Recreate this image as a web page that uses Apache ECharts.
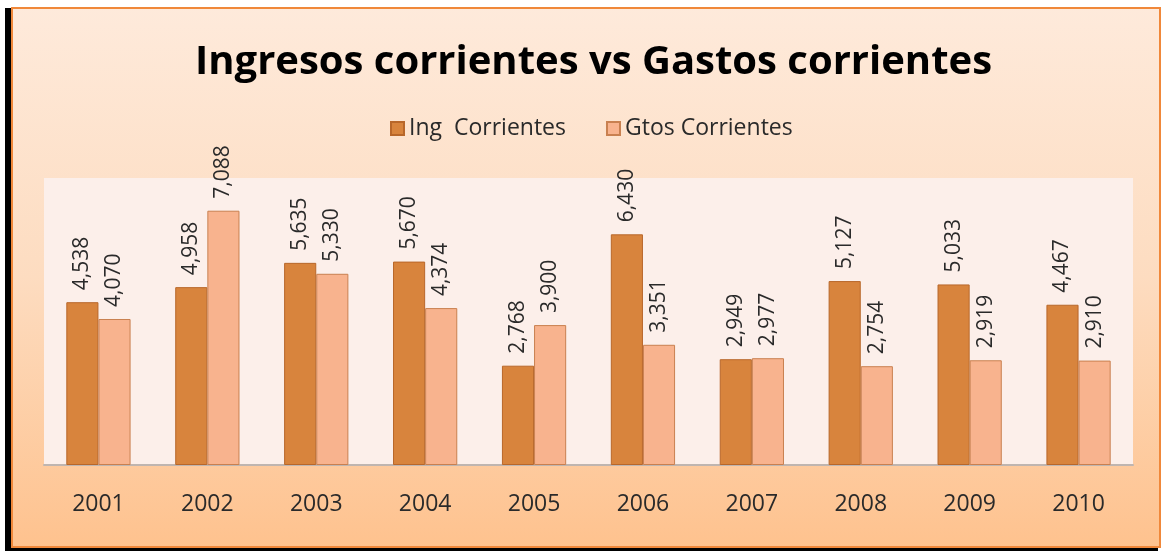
<!DOCTYPE html>
<html>
<head>
<meta charset="utf-8">
<script src="https://cdn.jsdelivr.net/npm/echarts@6/dist/echarts.min.js"></script>
<style>
html, body { margin: 0; padding: 0; background: #fff; }
#chart { width: 1163px; height: 552px; }
</style>
</head>
<body>
<div id="chart"></div>
<script>
const years = ['2001', '2002', '2003', '2004', '2005', '2006', '2007', '2008', '2009', '2010']
const ingresos = [4538, 4958, 5635, 5670, 2768, 6430, 2949, 5127, 5033, 4467]
const gastos = [4070, 7088, 5330, 4374, 3900, 3351, 2977, 2754, 2919, 2910]

const chart = echarts.init(document.getElementById('chart'))

const fmt = p => p.value.toLocaleString('en-US')
const valueLabel = {
    show: true,
    position: 'top',
    rotate: 90,
    align: 'left',
    verticalAlign: 'middle',
    distance: 12,
    fontFamily: 'Open Sans',
    fontSize: 21,
    color: '#2a2a2a',
    formatter: fmt
}

const option = {
    backgroundColor: '#fff',
    textStyle: { fontFamily: 'Open Sans' },
    graphic: [
        // sombra negra del marco
        { type: 'rect', z: -10, shape: { x: 5, y: 8, width: 1153, height: 543 }, style: { fill: '#000' } },
        {
            type: 'rect', z: -9,
            shape: { x: 12, y: 8, width: 1148, height: 539 },
            style: {
                fill: new echarts.graphic.LinearGradient(0, 0, 0, 1, [
                    { offset: 0, color: '#FEEADB' },
                    { offset: 0.5, color: '#FDDCC0' },
                    { offset: 1, color: '#FEC28E' }
                ]),
                stroke: '#F0883A',
                lineWidth: 2
            }
        }
    ],
    title: {
        text: 'Ingresos corrientes vs Gastos corrientes',
        left: 190,
        top: 38,
        textStyle: { fontFamily: 'Open Sans', fontWeight: 'bold', fontSize: 40, color: '#000' }
    },
    legend: {
        top: 112,
        left: 385,
        itemWidth: 13,
        itemHeight: 13,
        itemGap: 40,
        icon: 'rect',
        textStyle: { fontFamily: 'Open Sans', fontSize: 23, color: '#2a2a2a' },
        data: ['Ing  Corrientes', 'Gtos Corrientes']
    },
    grid: {
        left: 44,
        right: 30,
        top: 178,
        bottom: 87,
        show: true,
        backgroundColor: '#FCEFEA',
        borderWidth: 0
    },
    xAxis: {
        type: 'category',
        data: years,
        axisLine: { lineStyle: { color: '#BFB5B0', width: 2 } },
        axisTick: { show: false },
        axisLabel: { fontFamily: 'Open Sans', fontSize: 23, color: '#2a2a2a', margin: 28 }
    },
    yAxis: {
        type: 'value',
        min: 0,
        max: 8000,
        show: false,
        splitLine: { show: false }
    },
    series: [
        {
            name: 'Ing  Corrientes',
            type: 'bar',
            data: ingresos,
            barGap: '0%',
            barCategoryGap: '41%',
            itemStyle: { color: '#D8843D', borderColor: '#B8672A', borderWidth: 1 },
            label: valueLabel
        },
        {
            name: 'Gtos Corrientes',
            type: 'bar',
            data: gastos,
            itemStyle: { color: '#F8B38E', borderColor: '#C98050', borderWidth: 1 },
            label: valueLabel
        }
    ]
}

chart.setOption(option)
</script>
</body>
</html>
